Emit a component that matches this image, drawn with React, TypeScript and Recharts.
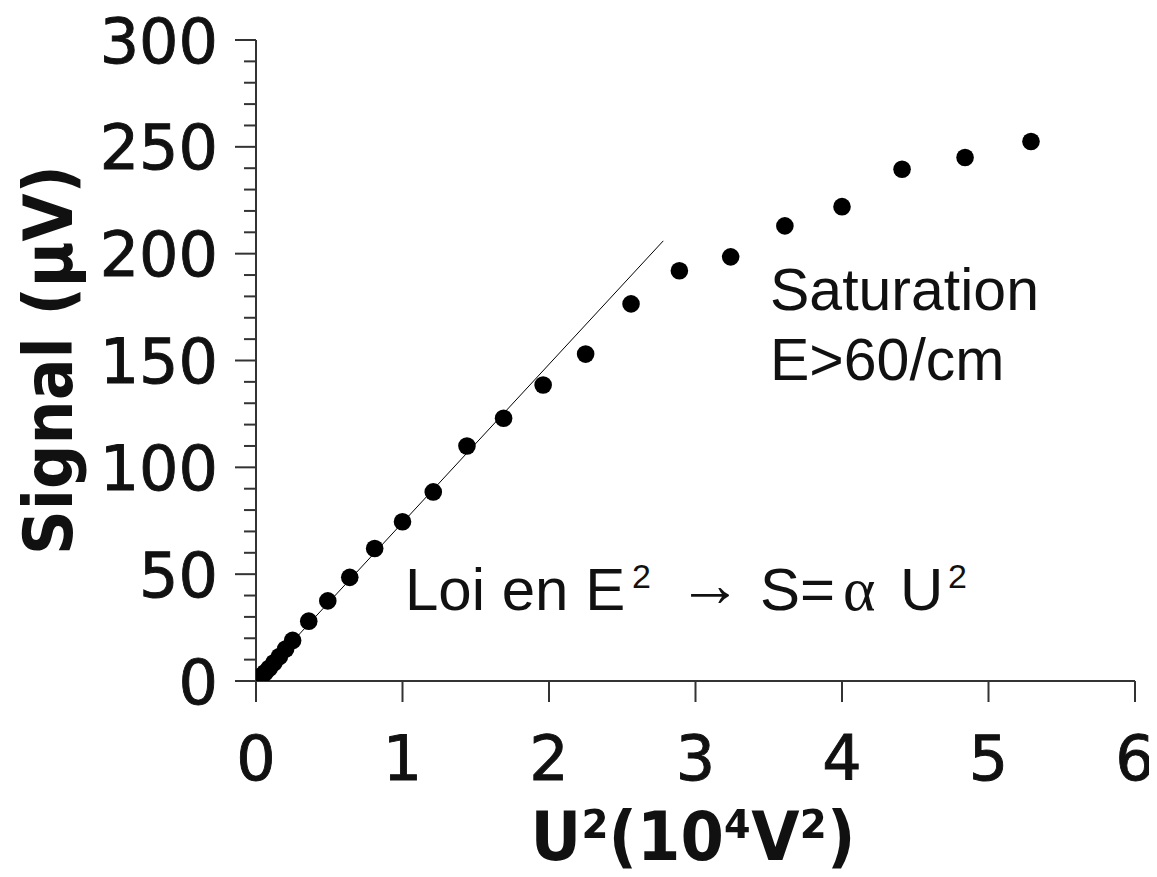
import React from 'react';
import { ScatterChart, Scatter, XAxis, YAxis, ReferenceLine, Customized } from 'recharts';

// U² in 10^4 V² (U = 10 … 230 V)
const uSquared = [0.01, 0.0225, 0.04, 0.0625, 0.09, 0.1225, 0.16, 0.2025, 0.25, 0.36, 0.49, 0.64, 0.81, 1.0, 1.21, 1.44, 1.69, 1.96, 2.25, 2.56, 2.89, 3.24, 3.61, 4.0, 4.41, 4.84, 5.29];
// Signal in µV
const signal = [0.5, 1.5, 2.5, 4, 6, 8.5, 11.5, 15, 19, 28, 37.5, 48.5, 62, 74.5, 88.5, 110, 123, 138.5, 153, 176.5, 192, 198.5, 213, 222, 239.5, 245, 252.5];

// Linear law S = α U²
const fitX = [0, 2.78];
const fitY = [0, 206];

const xTicks = [0, 1, 2, 3, 4, 5, 6];
const yMajorTicks = [0, 50, 100, 150, 200, 250, 300];
const yMinorStep = 10;

const yTicks: number[] = [];
for (let v = 0; v <= 300; v += yMinorStep) yTicks.push(v);

const data = uSquared.map((x, i) => ({ x, y: signal[i] }));

const AXIS = '#333';
const TXT = '#111';

const YTick = (props: any) => {
  const { x, y, payload } = props;
  const v = payload.value;
  const major = yMajorTicks.includes(v);
  return (
    <g>
      <line x1={x - (major ? 21 : 12)} x2={x} y1={y} y2={y} stroke={AXIS} strokeWidth={2} />
      {major && (
        <text x={x - 38} y={y} dy="0.3645em" textAnchor="end" fontFamily="DejaVu Sans" fontSize={62} fill={TXT} stroke={TXT} strokeWidth={0.9}>
          {v}
        </text>
      )}
    </g>
  );
};

const XTick = (props: any) => {
  const { x, y, payload } = props;
  return (
    <g>
      <line x1={x} x2={x} y1={y} y2={y + 21} stroke={AXIS} strokeWidth={2} />
      <text x={x} y={y + 76} dy="0.3645em" textAnchor="middle" fontFamily="DejaVu Sans" fontSize={62} fill={TXT} stroke={TXT} strokeWidth={0.9}>
        {payload.value}
      </text>
    </g>
  );
};

const Dot = (props: any) => <circle cx={props.cx} cy={props.cy} r={8.8} fill="#000" />;

const Annotations = () => (
  <g transform="translate(0 8)">
    <text
      transform="translate(64 352) rotate(-90)"
      x={0}
      y={0}
      textAnchor="middle"
      fontFamily="DejaVu Sans"
      fontWeight="bold"
      fontSize={68}
      textLength={390}
      lengthAdjust="spacingAndGlyphs"
      fill={TXT}
    >
      Signal (µV)
    </text>
    <text
      x={685}
      y={852}
      textAnchor="middle"
      fontFamily="DejaVu Sans"
      fontWeight="bold"
      fontSize={68}
      textLength={325}
      lengthAdjust="spacingAndGlyphs"
      fill={TXT}
    >
      U²(10⁴V²)
    </text>
    <text x={762} y={302} fontFamily="Liberation Sans" fontSize={59} fill={TXT}>Saturation</text>
    <text x={762} y={372} fontFamily="Liberation Sans" fontSize={59} fill={TXT}>E&gt;60/cm</text>
    <g fontFamily="Liberation Sans" fill={TXT}>
      <text x={397} y={602} fontSize={60}>Loi en E</text>
      <text x={624} y={580} fontSize={34}>2</text>
      <text x={670} y={598} fontSize={64}>→</text>
      <text x={752} y={602} fontSize={60}>S=</text>
      <text x={835} y={602} fontSize={62} fontFamily="Liberation Serif">α</text>
      <text x={892} y={602} fontSize={60}>U</text>
      <text x={940} y={580} fontSize={34}>2</text>
    </g>
  </g>
);

export default function App() {
  return (
    <div style={{ marginTop: -8 }}>
      <ScatterChart width={1149} height={877} margin={{ top: 40, right: 22, bottom: 0, left: 0 }}>
        <XAxis
          dataKey="x"
          type="number"
          domain={[0, 6]}
          ticks={xTicks}
          interval={0}
          allowDataOverflow
          height={196}
          axisLine={{ stroke: AXIS, strokeWidth: 2 }}
          tickLine={false}
          tickSize={0}
          tickMargin={0}
          tick={<XTick />}
        />
        <YAxis
          dataKey="y"
          type="number"
          domain={[0, 300]}
          ticks={yTicks}
          interval={0}
          allowDataOverflow
          width={248}
          axisLine={{ stroke: AXIS, strokeWidth: 2 }}
          tickLine={false}
          tickSize={0}
          tickMargin={0}
          tick={<YTick />}
        />
        <ReferenceLine
          segment={[{ x: fitX[0], y: fitY[0] }, { x: fitX[1], y: fitY[1] }]}
          stroke="#000"
          strokeWidth={1}
          ifOverflow="visible"
        />
        <Scatter data={data} fill="#000" shape={<Dot />} isAnimationActive={false} />
        <Customized component={Annotations} />
      </ScatterChart>
    </div>
  );
}
